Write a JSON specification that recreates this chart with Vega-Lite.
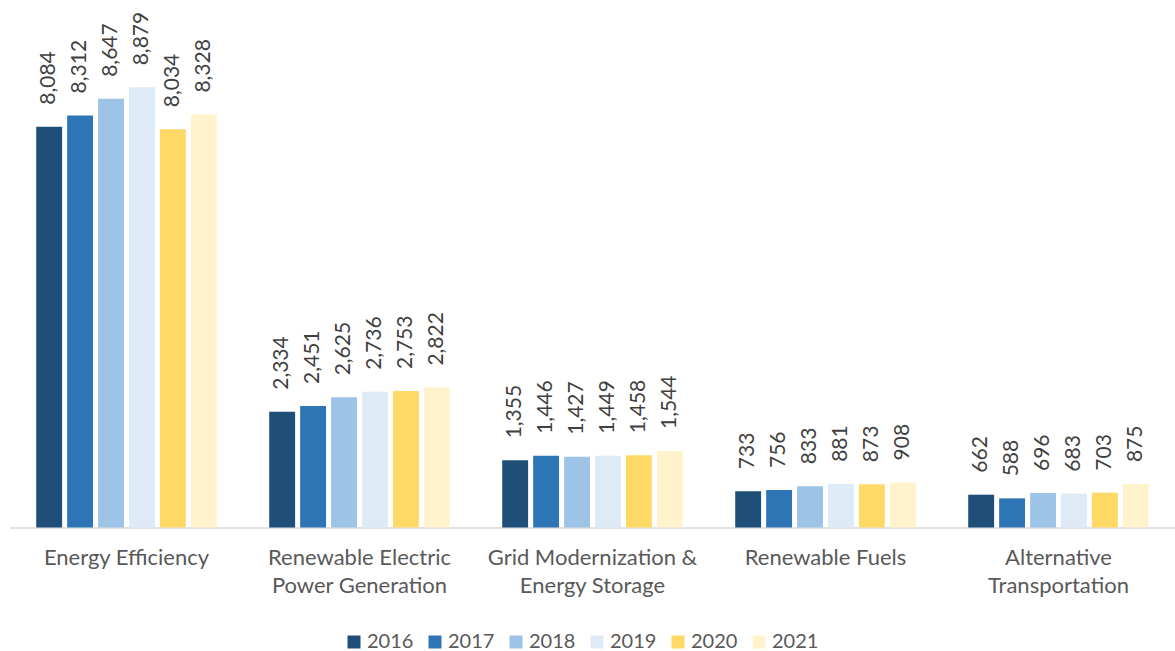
{
  "$schema": "https://vega.github.io/schema/vega-lite/v6.json",
  "autosize": "none",
  "width": 1165,
  "height": 527.5,
  "padding": {"left": 10, "top": 0, "right": 0, "bottom": 123.5},
  "background": "white",
  "config": {"view": {"stroke": null}, "font": "Lato"},
  "data": {"values": [
    {"category": "Energy Efficiency", "year": "2016", "value": 8084},
    {"category": "Energy Efficiency", "year": "2017", "value": 8312},
    {"category": "Energy Efficiency", "year": "2018", "value": 8647},
    {"category": "Energy Efficiency", "year": "2019", "value": 8879},
    {"category": "Energy Efficiency", "year": "2020", "value": 8034},
    {"category": "Energy Efficiency", "year": "2021", "value": 8328},
    {"category": "Renewable Electric Power Generation", "year": "2016", "value": 2334},
    {"category": "Renewable Electric Power Generation", "year": "2017", "value": 2451},
    {"category": "Renewable Electric Power Generation", "year": "2018", "value": 2625},
    {"category": "Renewable Electric Power Generation", "year": "2019", "value": 2736},
    {"category": "Renewable Electric Power Generation", "year": "2020", "value": 2753},
    {"category": "Renewable Electric Power Generation", "year": "2021", "value": 2822},
    {"category": "Grid Modernization & Energy Storage", "year": "2016", "value": 1355},
    {"category": "Grid Modernization & Energy Storage", "year": "2017", "value": 1446},
    {"category": "Grid Modernization & Energy Storage", "year": "2018", "value": 1427},
    {"category": "Grid Modernization & Energy Storage", "year": "2019", "value": 1449},
    {"category": "Grid Modernization & Energy Storage", "year": "2020", "value": 1458},
    {"category": "Grid Modernization & Energy Storage", "year": "2021", "value": 1544},
    {"category": "Renewable Fuels", "year": "2016", "value": 733},
    {"category": "Renewable Fuels", "year": "2017", "value": 756},
    {"category": "Renewable Fuels", "year": "2018", "value": 833},
    {"category": "Renewable Fuels", "year": "2019", "value": 881},
    {"category": "Renewable Fuels", "year": "2020", "value": 873},
    {"category": "Renewable Fuels", "year": "2021", "value": 908},
    {"category": "Alternative Transportation", "year": "2016", "value": 662},
    {"category": "Alternative Transportation", "year": "2017", "value": 588},
    {"category": "Alternative Transportation", "year": "2018", "value": 696},
    {"category": "Alternative Transportation", "year": "2019", "value": 683},
    {"category": "Alternative Transportation", "year": "2020", "value": 703},
    {"category": "Alternative Transportation", "year": "2021", "value": 875}
  ]},
  "encoding": {
    "x": {
      "field": "category", "type": "nominal", "sort": null,
      "scale": {"paddingInner": 0.225, "paddingOuter": 0.1125},
      "axis": {
        "title": null, "labelAngle": 0, "ticks": false,
        "domainColor": "#D9D9D9", "domainWidth": 1.5,
        "labelFontSize": 22, "labelColor": "#595959", "labelPadding": 20,
        "labelLineHeight": 28, "labelFont": "Lato", "labelLimit": 300,
        "labelExpr": "datum.label == 'Renewable Electric Power Generation' ? ['Renewable Electric', 'Power Generation'] : datum.label == 'Grid Modernization & Energy Storage' ? ['Grid Modernization &', 'Energy Storage'] : datum.label == 'Alternative Transportation' ? ['Alternative', 'Transportation'] : datum.label"
      }
    },
    "xOffset": {"field": "year", "type": "nominal", "scale": {"paddingInner": 0.163, "paddingOuter": 0}},
    "y": {
      "field": "value", "type": "quantitative",
      "scale": {"domain": [0, 10640], "nice": false},
      "axis": null
    }
  },
  "layer": [
    {
      "mark": {"type": "bar"},
      "encoding": {
        "color": {
          "field": "year", "type": "nominal",
          "scale": {"domain": ["2016", "2017", "2018", "2019", "2020", "2021"],
                    "range": ["#1F4E79", "#2E75B6", "#9DC3E6", "#DEEBF7", "#FFD966", "#FFF2CC"]},
          "legend": {
            "title": null, "orient": "none", "direction": "horizontal",
            "legendX": 334, "legendY": 632,
            "symbolType": "square", "symbolSize": 169, "symbolStrokeWidth": 0,
            "labelFontSize": 20, "labelColor": "#595959", "labelFont": "Lato",
            "labelOffset": 3, "columnPadding": 11
          }
        }
      }
    },
    {
      "mark": {"type": "text", "angle": 270, "align": "left", "baseline": "middle", "dx": 22, "fontSize": 21, "color": "#404040", "font": "Lato"},
      "encoding": {
        "text": {"field": "value", "type": "quantitative", "format": ","}
      }
    }
  ]
}
